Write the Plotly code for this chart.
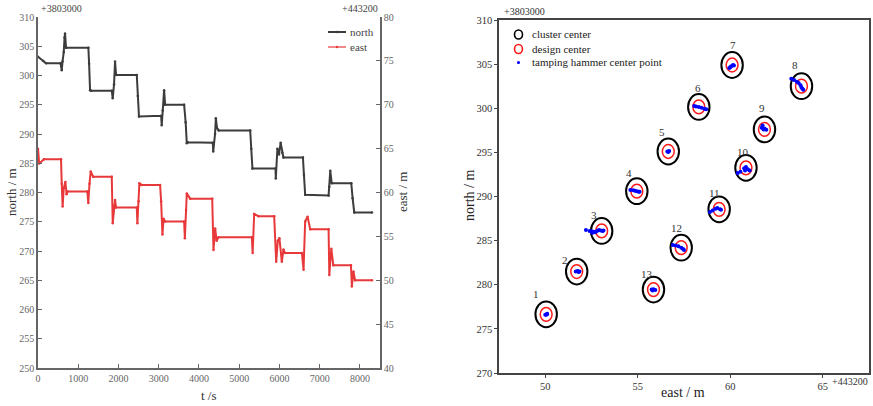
import plotly.graph_objects as go

# ---------------- data: left chart (time series) ----------------
north_t = [0, 130, 200, 560, 590, 610, 640, 660, 672, 697, 1252, 1270, 1294, 1320, 1833, 1857,
           1890, 1915, 1940, 2455, 2480, 2510, 3060, 3075, 3100, 3134, 3160, 3632, 3670, 3698,
           3720, 4345, 4355, 4400, 4420, 4450, 4490, 5274, 5300, 5330, 5903, 5910, 5950, 5990,
           6030, 6070, 6100, 6584, 6610, 6640, 7222, 7240, 7264, 7300, 7786, 7820, 7860, 8300]
north_v = [303.2, 302.5, 302.1, 302.1, 300.9, 302.4, 304.0, 306.5, 307.2, 304.75, 304.75, 302.0,
           297.5, 297.4, 297.4, 296.1, 298.5, 302.4, 300.1, 300.1, 296.5, 293.0, 293.1, 291.5,
           294.0, 297.5, 295.0, 295.0, 292.0, 288.4, 288.6, 288.5, 287.0, 290.0, 292.7, 291.0,
           290.6, 290.6, 287.5, 284.1, 284.1, 282.4, 287.5, 286.5, 288.5, 286.8, 286.0, 286.0,
           283.0, 279.6, 279.5, 281.0, 283.7, 281.6, 281.6, 279.0, 276.6, 276.6]

east_t = [0, 30, 150, 572, 590, 612, 640, 680, 710, 735, 1227, 1250, 1280, 1310, 1370, 1833,
          1857, 1890, 1915, 1940, 2455, 2470, 2500, 2520, 2580, 3035, 3060, 3093, 3120, 3160,
          3632, 3650, 3680, 3698, 3781, 4330, 4361, 4403, 4440, 4485, 5315, 5335, 5373, 5480,
          5870, 5920, 5960, 6000, 6060, 6100, 6140, 6560, 6600, 6640, 6700, 6766, 7222, 7240,
          7290, 7340, 7778, 7800, 7840, 7880, 8300]
east_v = [65.0, 63.3, 63.8, 63.8, 61.0, 58.4, 60.5, 61.2, 59.8, 60.1, 60.1, 58.8, 61.0, 62.4,
          61.8, 61.8, 56.5, 58.5, 59.15, 58.3, 58.3, 56.5, 59.0, 61.05, 60.85, 60.85, 59.0, 55.2,
          57.0, 56.7, 56.7, 54.8, 58.0, 59.9, 59.3, 59.3, 53.45, 55.9, 54.5, 54.9, 54.9, 53.1,
          57.55, 57.3, 57.3, 52.1, 54.5, 54.8, 52.1, 53.5, 53.1, 53.1, 51.2, 56.7, 57.25, 55.8,
          55.8, 50.6, 53.6, 51.7, 51.7, 49.3, 51.0, 50.0, 50.0]

# ---------------- data: right chart (positions) ----------------
point_labels = ["1", "2", "3", "4", "5", "6", "7", "8", "9", "10", "11", "12", "13"]
cluster_east = [50.05, 51.7, 53.05, 54.95, 56.65, 58.3, 60.1, 63.85, 61.85, 60.85, 59.4, 57.35, 55.85]
cluster_north = [276.65, 281.5, 286.1, 290.6, 295.1, 300.15, 304.9, 302.5, 297.6, 293.25, 288.55, 284.2, 279.45]
design_east = [50.05, 51.7, 53.05, 54.95, 56.65, 58.3, 60.1, 63.85, 61.85, 60.85, 59.4, 57.35, 55.85]
design_north = [276.65, 281.5, 286.1, 290.6, 295.1, 300.15, 304.9, 302.5, 297.6, 293.25, 288.55, 284.2, 279.45]

hammer_east = [50.0, 50.1, 50.05, 50.1,
               51.65, 51.75, 51.85, 51.8,
               52.2, 52.4, 52.5, 52.6, 52.7, 52.8, 52.9, 53.0, 53.1, 53.15, 52.55,
               54.6, 54.75, 54.85, 54.95, 55.05, 55.1,
               56.6, 56.7, 56.65,
               58.05, 58.15, 58.3, 58.45, 58.6, 58.7,
               59.95, 60.05, 60.15, 60.2, 60.0,
               63.3, 63.45, 63.6, 63.7, 63.8, 63.85, 63.9, 63.95,
               61.7, 61.75, 61.85, 61.95, 61.8,
               60.4, 60.55, 60.75, 60.85, 60.95, 61.05, 60.8,
               58.9, 59.05, 59.2, 59.3, 59.45, 59.5,
               56.9, 57.05, 57.2, 57.35, 57.45, 57.5,
               55.75, 55.85, 55.95, 55.8]
hammer_north = [276.6, 276.7, 276.6, 276.65,
                281.5, 281.55, 281.5, 281.45,
                286.2, 286.1, 286.05, 286.0, 285.95, 286.1, 286.2, 286.15, 286.1, 286.15, 285.9,
                290.75, 290.7, 290.65, 290.6, 290.55, 290.55,
                295.1, 295.15, 295.05,
                300.25, 300.2, 300.15, 300.05, 299.95, 299.9,
                304.55, 304.75, 304.9, 304.85, 304.65,
                303.35, 303.2, 303.0, 302.85, 302.6, 302.35, 302.2, 302.1,
                297.8, 298.05, 297.7, 297.55, 297.6,
                292.65, 292.8, 293.2, 293.35, 293.1, 292.95, 292.95,
                288.25, 288.4, 288.6, 288.7, 288.55, 288.5,
                284.5, 284.45, 284.35, 284.2, 284.05, 283.95,
                279.45, 279.5, 279.4, 279.35]

# ---------------- styling (not data) ----------------
FONT = "Liberation Serif"
W, H = 873, 406
ML, MR, MT, MB = 38, 4, 17, 33
PW, PH = W - ML - MR, H - MT - MB


def px(xp):
    return (xp - ML) / PW


def py(yp):
    return (H - MB - yp) / PH


label_dx = [-10, -12, -8, -8, -6, -1, 1, -6, -2, -3, -5, -5, -6]
label_dy = [20, 12, 16, 18, 19, 19, 20, 21, 21, 16, 16, 20, 16]
black_rx, black_ry = 0.58, 1.46
red_rx, red_ry = 0.32, 0.78
NORTH_C, EAST_C = "#3c3c3c", "#e8393a"

fig = go.Figure()

fig.add_trace(go.Scatter(x=north_t, y=north_v, name="north", mode="lines+markers",
                         line=dict(color=NORTH_C, width=2), marker=dict(size=2.5, color=NORTH_C),
                         xaxis="x", yaxis="y", showlegend=False))
fig.add_trace(go.Scatter(x=east_t, y=east_v, name="east", mode="lines+markers",
                         line=dict(color=EAST_C, width=2), marker=dict(size=2.5, color=EAST_C),
                         xaxis="x", yaxis="y2", showlegend=False))
fig.add_trace(go.Scatter(x=hammer_east, y=hammer_north, name="tamping hammer center point", mode="markers",
                         marker=dict(size=4, color="#0000ff"),
                         xaxis="x3", yaxis="y3", showlegend=False))

shapes = []
for e, n in zip(cluster_east, cluster_north):
    shapes.append(dict(type="circle", xref="x3", yref="y3",
                       x0=e - black_rx, x1=e + black_rx, y0=n - black_ry, y1=n + black_ry,
                       line=dict(color="black", width=2), layer="below"))
for e, n in zip(design_east, design_north):
    shapes.append(dict(type="circle", xref="x3", yref="y3",
                       x0=e - red_rx, x1=e + red_rx, y0=n - red_ry, y1=n + red_ry,
                       line=dict(color="#ff1a1a", width=1.5), layer="below"))

annotations = []
for lab, e, n, dx, dy in zip(point_labels, cluster_east, cluster_north, label_dx, label_dy):
    annotations.append(dict(x=e, y=n, xref="x3", yref="y3", text=lab, showarrow=False,
                            xshift=dx, yshift=dy, font=dict(family=FONT, size=11, color="#333")))

# ---- manual legend: left chart ----
left_leg = [("north", NORTH_C, 32), ("east", "#f08a8a", 47)]
for name, col, yy in left_leg:
    shapes.append(dict(type="line", xref="paper", yref="paper", x0=px(328), x1=px(346),
                       y0=py(yy), y1=py(yy), line=dict(color=col, width=2)))
    shapes.append(dict(type="circle", xref="paper", yref="paper", xsizemode="pixel", ysizemode="pixel",
                       xanchor=px(337), yanchor=py(yy), x0=-1.2, x1=1.2, y0=-1.2, y1=1.2,
                       fillcolor=NORTH_C if name == "north" else EAST_C, line=dict(width=0)))
    annotations.append(dict(x=px(348), y=py(yy), xref="paper", yref="paper", text=name, showarrow=False,
                            xanchor="left", yanchor="middle", font=dict(family=FONT, size=11, color="#444")))

# ---- manual legend: right chart ----
right_leg = [("cluster center", 34.5), ("design center", 49), ("tamping hammer center point", 62.5)]
for i, (name, yy) in enumerate(right_leg):
    if i < 2:
        shapes.append(dict(type="circle", xref="paper", yref="paper", xsizemode="pixel", ysizemode="pixel",
                           xanchor=px(518.5), yanchor=py(yy), x0=-4, x1=4, y0=-4.5, y1=4.5,
                           line=dict(color="black" if i == 0 else "#ff1a1a", width=1.6)))
    else:
        shapes.append(dict(type="circle", xref="paper", yref="paper", xsizemode="pixel", ysizemode="pixel",
                           xanchor=px(518.5), yanchor=py(yy), x0=-1.6, x1=1.6, y0=-1.6, y1=1.6,
                           fillcolor="#0000ff", line=dict(width=0)))
    annotations.append(dict(x=px(530), y=py(yy), xref="paper", yref="paper", text=name, showarrow=False,
                            xanchor="left", yanchor="middle", font=dict(family=FONT, size=11, color="#222")))

# ---- axis offset labels and axis titles ----
annotations += [
    dict(x=px(39), y=py(8), xref="paper", yref="paper", text="+3803000", showarrow=False,
         xanchor="left", yanchor="middle", font=dict(family=FONT, size=10, color="#444")),
    dict(x=px(380), y=py(8), xref="paper", yref="paper", text="+443200", showarrow=False,
         xanchor="right", yanchor="middle", font=dict(family=FONT, size=10, color="#444")),
    dict(x=px(502), y=py(12), xref="paper", yref="paper", text="+3803000", showarrow=False,
         xanchor="left", yanchor="middle", font=dict(family=FONT, size=10, color="#333")),
    dict(x=px(870), y=py(381), xref="paper", yref="paper", text="+443200", showarrow=False,
         xanchor="right", yanchor="middle", font=dict(family=FONT, size=10, color="#333")),
    dict(x=px(209), y=py(395), xref="paper", yref="paper", text="t /s", showarrow=False,
         xanchor="center", yanchor="middle", font=dict(family=FONT, size=13, color="#333")),
    dict(x=px(11), y=py(192), xref="paper", yref="paper", text="north / m", showarrow=False, textangle=-90,
         xanchor="center", yanchor="middle", font=dict(family=FONT, size=13, color="#333")),
    dict(x=px(402), y=py(192), xref="paper", yref="paper", text="east / m", showarrow=False, textangle=-90,
         xanchor="center", yanchor="middle", font=dict(family=FONT, size=13, color="#333")),
    dict(x=px(683), y=py(393), xref="paper", yref="paper", text="east / m", showarrow=False,
         xanchor="center", yanchor="middle", font=dict(family=FONT, size=14, color="#222")),
    dict(x=px(469), y=py(196), xref="paper", yref="paper", text="north / m", showarrow=False, textangle=-90,
         xanchor="center", yanchor="middle", font=dict(family=FONT, size=14, color="#222")),
]

left_axis = dict(showline=True, linecolor="#666", linewidth=1.5, ticks="inside", ticklen=4,
                 tickcolor="#666", showgrid=False, zeroline=False, automargin=False,
                 tickfont=dict(family=FONT, size=10, color="#666"))
right_axis = dict(showline=True, linecolor="#444", linewidth=1.5, ticks="outside", ticklen=3,
                  tickcolor="#444", showgrid=False, zeroline=False, mirror=True, automargin=False,
                  tickfont=dict(family=FONT, size=10.5, color="#333"))

fig.update_layout(
    width=W, height=H,
    margin=dict(l=ML, r=MR, t=MT, b=MB),
    paper_bgcolor="white", plot_bgcolor="white",
    shapes=shapes, annotations=annotations,
    xaxis=dict(domain=[0, px(380)], range=[0, 8500], tickvals=[0, 1000, 2000, 3000, 4000, 5000, 6000, 7000, 8000],
               anchor="y", **left_axis),
    yaxis=dict(domain=[py(368), 1.0], range=[250, 310], dtick=5, anchor="x", **left_axis),
    yaxis2=dict(domain=[py(368), 1.0], range=[40, 80], dtick=5, overlaying="y", side="right", anchor="x",
                **left_axis),
    xaxis3=dict(domain=[px(499), 1.0], range=[47.5, 67.5], tickvals=[50, 55, 60, 65], anchor="y3",
                **right_axis),
    yaxis3=dict(domain=[0.0, py(20)], range=[270, 310], dtick=5, anchor="x3", **right_axis),
    showlegend=False,
)

fig.write_html("out.html", config={"displayModeBar": False},
               post_script="document.body.style.margin='0px';")
